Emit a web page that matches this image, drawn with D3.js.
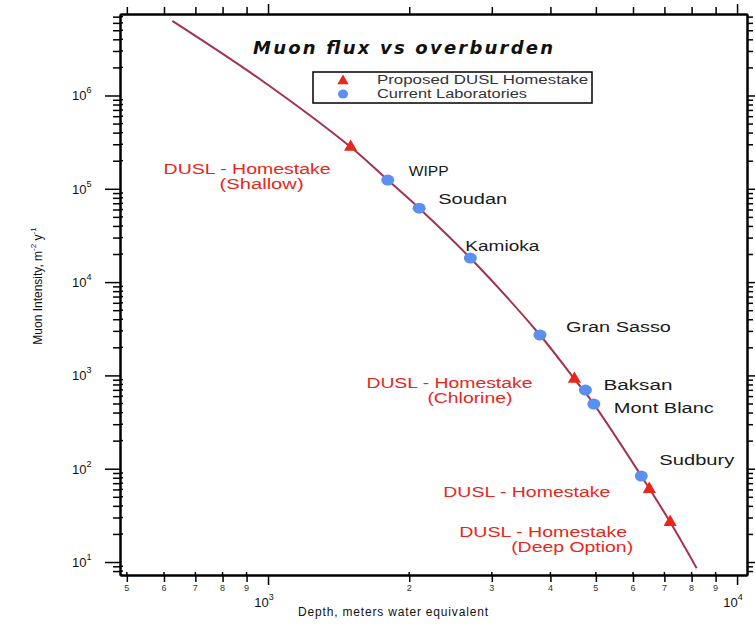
<!DOCTYPE html>
<html lang="en">
<head>
<meta charset="UTF-8">
<title>Muon flux vs overburden</title>
<script src="https://d3js.org/d3.v7.min.js"></script>
<style>
  body { margin: 0; background: #fff; font-family: "Liberation Sans", Arial, sans-serif; }
  svg { display: block; }
</style>
</head>
<body>
<svg id="chart" width="755" height="628"></svg>
<script>
// depth in m.w.e., flux in muons m^-2 y^-1
const curveDepth = [625, 960, 1500, 1800, 2100, 2700, 3800, 4500, 4950, 6250, 7200, 8200];
const curveFlux  = [6.3e6, 1.5e6, 2.8e5, 1.24e5, 6.2e4, 1.81e4, 2710, 914, 493, 83.5, 26.8, 8.6];

const labNames = ["WIPP", "Soudan", "Kamioka", "Gran Sasso", "Baksan", "Mont Blanc", "Sudbury"];
const labDepth = [1800, 2100, 2700, 3800, 4750, 4950, 6250];
const labFlux  = [1.24e5, 6.2e4, 1.81e4, 2710, 697, 493, 83.5];

const duslNames = [["DUSL - Homestake", "(Shallow)"], ["DUSL - Homestake", "(Chlorine)"],
                   ["DUSL - Homestake"], ["DUSL - Homestake", "(Deep Option)"]];
const duslDepth = [1500, 4500, 6500, 7200];
const duslFlux  = [2.8e5, 914, 60.5, 26.8];

const xMajor = [1e3, 1e4];
const yMajor = [1e1, 1e2, 1e3, 1e4, 1e5, 1e6];

// label layout: offsets from the marker, and text widths
const labLayout = [
  {dx: 21, dy: -9, w: 40}, {dx: 19, dy: -9, w: 69}, {dx: -5, dy: -12, w: 74},
  {dx: 26, dy: -8, w: 105}, {dx: 18, dy: -5, w: 69}, {dx: 20, dy: 4, w: 100},
  {dx: 18, dy: -16, w: 75}
];
const duslLayout = [
  [{dx: -187, dy: 22, w: 167}, {dx: -131, dy: 37, w: 84}],
  [{dx: -208, dy: 4, w: 166}, {dx: -147, dy: 19, w: 85}],
  [{dx: -206, dy: 3, w: 167}],
  [{dx: -211, dy: 10, w: 168}, {dx: -159, dy: 25, w: 122}]
];

const svg = d3.select("#chart");
const L = 120, R = 747, T = 14, B = 575;

const x = d3.scaleLog().domain([483.5, 10500]).range([L, R]);
const y = d3.scaleLog().domain([7.26, 7.47e6]).range([B, T]);

const xMinor = x.ticks().filter(v => xMajor.indexOf(v) < 0);
const yMinor = y.ticks().filter(v => yMajor.indexOf(v) < 0);

function addText(g, px, py, str, o) {
  const t = g.append("text")
    .attr("x", px).attr("y", py)
    .attr("dominant-baseline", "central")
    .attr("font-size", o.size || 14)
    .attr("fill", o.fill || "#222")
    .text(str);
  if (o.w) t.attr("textLength", o.w).attr("lengthAdjust", o.adj || "spacing");
  if (o.family) t.attr("font-family", o.family);
  if (o.weight) t.attr("font-weight", o.weight);
  if (o.style) t.attr("font-style", o.style);
  return t;
}

// axes
function drawAxis(axisFn, scale, majors, minors, tf, bigLen, smallLen) {
  const gMaj = svg.append("g").attr("transform", tf)
    .call(axisFn(scale).tickValues(majors).tickSize(bigLen).tickSizeOuter(0).tickFormat(""));
  const gMin = svg.append("g").attr("transform", tf)
    .call(axisFn(scale).tickValues(minors).tickSize(smallLen).tickSizeOuter(0).tickFormat(""));
  [gMaj, gMin].forEach(g => {
    g.selectAll("path").attr("stroke", "#000").attr("stroke-width", 2);
    g.selectAll("line").attr("stroke", "#000").attr("stroke-width", 1.5);
  });
}
drawAxis(d3.axisBottom, x, xMajor, xMinor, `translate(0,${B})`, 10, 7);
drawAxis(d3.axisTop, x, xMajor, xMinor, `translate(0,${T})`, 10, 7);
drawAxis(d3.axisLeft, y, yMajor, yMinor, `translate(${L},0)`, 15, 7);
drawAxis(d3.axisRight, y, yMajor, yMinor, `translate(${R},0)`, 12, 6);

// minor ticks cross slightly into the frame
svg.append("g").selectAll("line").data(yMinor).join("line")
  .attr("x1", L).attr("x2", L + 3).attr("y1", d => y(d)).attr("y2", d => y(d))
  .attr("stroke", "#000").attr("stroke-width", 1.5);
svg.append("g").selectAll("line").data(xMinor).join("line")
  .attr("y1", B).attr("y2", B - 3).attr("x1", d => x(d)).attr("x2", d => x(d))
  .attr("stroke", "#000").attr("stroke-width", 1.5);

// x tick labels
svg.append("g").selectAll("text").data(xMinor).join("text")
  .attr("x", d => x(d)).attr("y", B + 13)
  .attr("text-anchor", "middle").attr("dominant-baseline", "central")
  .attr("font-size", 9).attr("fill", "#333")
  .text(d => String(d).charAt(0));
const xl = svg.append("g").selectAll("text").data(xMajor).join("text")
  .attr("x", d => x(d) - 4).attr("y", B + 27)
  .attr("text-anchor", "middle").attr("dominant-baseline", "central")
  .attr("font-size", 13).attr("fill", "#111");
xl.append("tspan").text("10");
xl.append("tspan").attr("dy", -5).attr("font-size", 9).text(d => Math.round(Math.log10(d)));

// y tick labels
const yl = svg.append("g").selectAll("text").data(yMajor).join("text")
  .attr("x", L - 48).attr("y", d => y(d))
  .attr("dominant-baseline", "central")
  .attr("font-size", 13).attr("fill", "#111");
yl.append("tspan").text("10");
yl.append("tspan").attr("dy", -5).attr("font-size", 9).text(d => Math.round(Math.log10(d)));

// axis titles
addText(svg, 298, 612, "Depth, meters water equivalent", {size: 12, w: 190, fill: "#111"});
const yt = svg.append("text")
  .attr("transform", "translate(38,286) rotate(-90)")
  .attr("text-anchor", "middle").attr("dominant-baseline", "central")
  .attr("font-size", 12).attr("fill", "#111");
yt.append("tspan").text("Muon Intensity, m");
yt.append("tspan").attr("dy", -5).attr("font-size", 8).text("-2");
yt.append("tspan").attr("dy", 5).text(" y");
yt.append("tspan").attr("dy", -5).attr("font-size", 8).text("-1");

// title
addText(svg, 253, 47, "Muon flux vs overburden",
  {size: 18, w: 300, fill: "#111", family: "DejaVu Sans", weight: "bold", style: "italic"});

// curve
const pts = curveDepth.map((d, i) => [x(d), y(curveFlux[i])]);
svg.append("path")
  .attr("d", d3.line().curve(d3.curveCatmullRom)(pts))
  .attr("fill", "none").attr("stroke", "#a3324e").attr("stroke-width", 2);

const triColor = "#e8261a", dotColor = "#5b8ff0";
const tri = d3.symbol().type(d3.symbolTriangle).size(75);

// current labs
svg.append("g").selectAll("ellipse").data(labDepth).join("ellipse")
  .attr("cx", d => x(d)).attr("cy", (d, i) => y(labFlux[i]))
  .attr("rx", 6.5).attr("ry", 5.5).attr("fill", dotColor);
labNames.forEach((n, i) => {
  const o = labLayout[i];
  addText(svg, x(labDepth[i]) + o.dx, y(labFlux[i]) + o.dy, n, {size: 14, w: o.w, fill: "#1a1a1a", adj: "spacingAndGlyphs"});
});

// DUSL
svg.append("g").selectAll("path").data(duslDepth).join("path")
  .attr("transform", (d, i) => `translate(${x(d)},${y(duslFlux[i])})`)
  .attr("d", tri).attr("fill", triColor);
duslNames.forEach((lines, i) => {
  lines.forEach((s, j) => {
    const o = duslLayout[i][j];
    addText(svg, x(duslDepth[i]) + o.dx, y(duslFlux[i]) + o.dy, s, {size: 14, w: o.w, fill: triColor, adj: "spacingAndGlyphs"});
  });
});

// legend
const lg = svg.append("g");
lg.append("rect").attr("x", 313).attr("y", 72).attr("width", 279).attr("height", 31)
  .attr("fill", "#fff").attr("stroke", "#000").attr("stroke-width", 1.5);
lg.append("path").attr("transform", "translate(343,81)").attr("d", d3.symbol().type(d3.symbolTriangle).size(55)).attr("fill", triColor);
lg.append("ellipse").attr("cx", 343).attr("cy", 94).attr("rx", 5).attr("ry", 4.5).attr("fill", dotColor);
addText(lg, 377, 80, "Proposed DUSL Homestake", {size: 12, w: 211, fill: "#333", adj: "spacingAndGlyphs"});
addText(lg, 377, 94, "Current Laboratories", {size: 12, w: 150, fill: "#333", adj: "spacingAndGlyphs"});
</script>
</body>
</html>
